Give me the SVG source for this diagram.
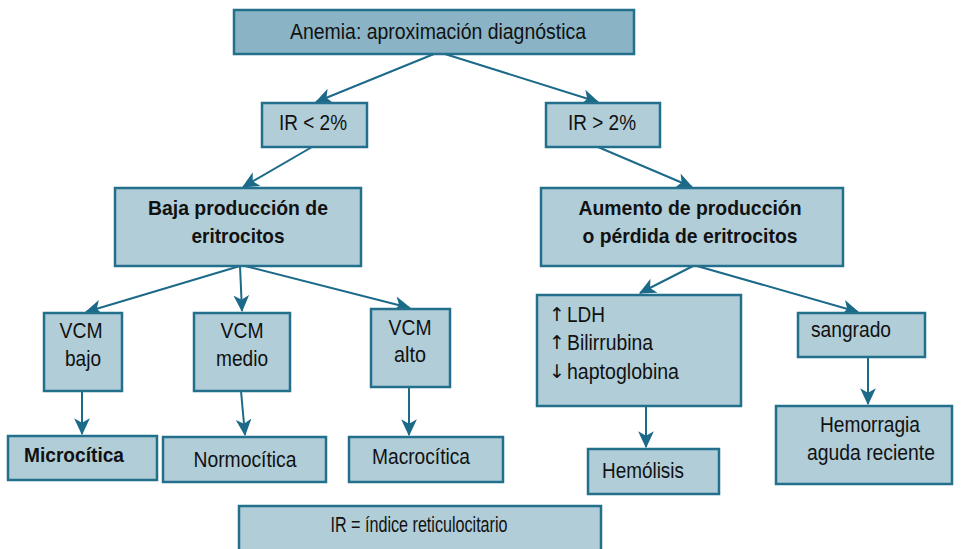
<svg xmlns="http://www.w3.org/2000/svg" width="962" height="549" viewBox="0 0 962 549">
<style>
.box{fill:#B0CDD8;stroke:#236F8C;stroke-width:2.5}
.top{fill:#8AB4C5;stroke:#236F8C;stroke-width:2.5}
.t{font-family:"Liberation Sans",Arial,sans-serif;font-size:22px;fill:#111}
.b{font-weight:bold;font-size:21px}
.c{text-anchor:middle}
.ar{font-family:"DejaVu Sans",sans-serif;font-size:19px;fill:#111}
.e line{stroke:#1B6A89;stroke-width:2;marker-end:url(#ah)}
</style>
<defs>
<marker id="ah" markerUnits="userSpaceOnUse" markerWidth="18" markerHeight="18" viewBox="0 0 16 16" refX="14" refY="8" orient="auto">
<path d="M0,1 L15,8 L0,15 L4,8 Z" fill="#1B6A89"/>
</marker>
</defs>
<rect width="962" height="549" fill="#fff"/>
<g id="edges" class="e">
<line x1="434" y1="54" x2="316" y2="102"/>
<line x1="445" y1="54" x2="598" y2="102"/>
<line x1="312" y1="147" x2="243" y2="187"/>
<line x1="598" y1="147" x2="692" y2="187"/>
<line x1="240" y1="266" x2="86" y2="312"/>
<line x1="240" y1="266" x2="242" y2="311"/>
<line x1="245" y1="266" x2="410" y2="308"/>
<line x1="693" y1="266" x2="640" y2="293"/>
<line x1="697" y1="266" x2="858" y2="312"/>
<line x1="82" y1="391" x2="82" y2="434"/>
<line x1="241" y1="391" x2="245" y2="435"/>
<line x1="409" y1="387" x2="409" y2="435"/>
<line x1="646" y1="406" x2="646" y2="447"/>
<line x1="868" y1="357" x2="868" y2="404"/>
</g>
<g id="n-root"><rect class="top" x="234" y="10" width="400" height="44"/><text class="t c" x="438" y="39" font-size="23" textLength="296" lengthAdjust="spacingAndGlyphs">Anemia: aproximación diagnóstica</text></g>
<g id="n-irlow"><rect class="box" x="262" y="103" width="105" height="44"/><text class="t c" x="313" y="130" textLength="68" lengthAdjust="spacingAndGlyphs">IR &lt; 2%</text></g>
<g id="n-irhigh"><rect class="box" x="546" y="103" width="114" height="44"/><text class="t c" x="602" y="130" textLength="68" lengthAdjust="spacingAndGlyphs">IR &gt; 2%</text></g>
<g id="n-baja"><rect class="box" x="115" y="188" width="246" height="78"/><text class="t b c" x="238" y="215" textLength="180" lengthAdjust="spacingAndGlyphs">Baja producción de</text><text class="t b c" x="238" y="243" textLength="93" lengthAdjust="spacingAndGlyphs">eritrocitos</text></g>
<g id="n-aumento"><rect class="box" x="541" y="188" width="302" height="78"/><text class="t b c" x="690" y="215" textLength="223" lengthAdjust="spacingAndGlyphs">Aumento de producción</text><text class="t b c" x="690" y="243" textLength="215" lengthAdjust="spacingAndGlyphs">o pérdida de eritrocitos</text></g>
<g id="n-vcmbajo"><rect class="box" x="44" y="313" width="78" height="78"/><text class="t c" x="81" y="338" textLength="43" lengthAdjust="spacingAndGlyphs">VCM</text><text class="t c" x="83" y="366" textLength="36" lengthAdjust="spacingAndGlyphs">bajo</text></g>
<g id="n-vcmmedio"><rect class="box" x="194" y="313" width="96" height="78"/><text class="t c" x="242" y="338" textLength="43" lengthAdjust="spacingAndGlyphs">VCM</text><text class="t c" x="242" y="366" textLength="52" lengthAdjust="spacingAndGlyphs">medio</text></g>
<g id="n-vcmalto"><rect class="box" x="371" y="309" width="79" height="78"/><text class="t c" x="410" y="335" textLength="43" lengthAdjust="spacingAndGlyphs">VCM</text><text class="t c" x="410" y="362" textLength="32" lengthAdjust="spacingAndGlyphs">alto</text></g>
<g id="n-micro"><rect class="box" x="8" y="436" width="149" height="44"/><text class="t b" x="24" y="462" textLength="100" lengthAdjust="spacingAndGlyphs">Microcítica</text></g>
<g id="n-normo"><rect class="box" x="163" y="437" width="163" height="45"/><text class="t c" x="245" y="467" textLength="103" lengthAdjust="spacingAndGlyphs">Normocítica</text></g>
<g id="n-macro"><rect class="box" x="349" y="437" width="154" height="45"/><text class="t c" x="421" y="464" textLength="98" lengthAdjust="spacingAndGlyphs">Macrocítica</text></g>
<g id="n-hemolab"><rect class="box" x="537" y="295" width="204" height="111"/>
<text class="ar" x="549" y="321">↑</text><text class="t" x="567" y="322" textLength="38" lengthAdjust="spacingAndGlyphs">LDH</text>
<text class="ar" x="549" y="349">↑</text><text class="t" x="567" y="350" textLength="86" lengthAdjust="spacingAndGlyphs">Bilirrubina</text>
<text class="ar" x="549" y="378">↓</text><text class="t" x="567" y="379" textLength="112" lengthAdjust="spacingAndGlyphs">haptoglobina</text></g>
<g id="n-sangrado"><rect class="box" x="798" y="313" width="127" height="44"/><text class="t" x="811" y="337" textLength="80" lengthAdjust="spacingAndGlyphs">sangrado</text></g>
<g id="n-hemolisis"><rect class="box" x="588" y="449" width="131" height="45"/><text class="t" x="602" y="478" textLength="82" lengthAdjust="spacingAndGlyphs">Hemólisis</text></g>
<g id="n-hemorragia"><rect class="box" x="776" y="406" width="176" height="78"/><text class="t c" x="870" y="432" textLength="100" lengthAdjust="spacingAndGlyphs">Hemorragia</text><text class="t c" x="871" y="460" textLength="128" lengthAdjust="spacingAndGlyphs">aguda reciente</text></g>
<g id="n-legend"><rect class="box" x="239" y="506" width="362" height="50"/><text class="t c" x="419" y="532" font-size="17" textLength="177" lengthAdjust="spacingAndGlyphs">IR = índice reticulocitario</text></g>
</svg>
